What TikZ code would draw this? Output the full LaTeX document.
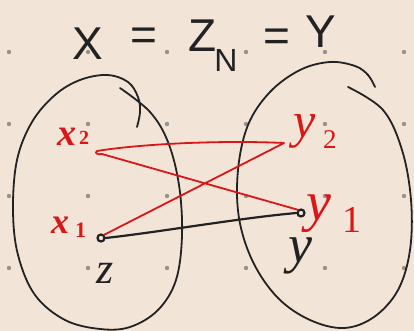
\documentclass[tikz,border=0pt]{standalone}
\usepackage{fontspec}
\newfontfamily\titlefont{Liberation Sans}
\newfontfamily\labelfont{Liberation Serif}
\definecolor{bg}{RGB}{243,228,216}
\definecolor{ink}{RGB}{34,34,34}
\definecolor{redink}{RGB}{218,22,22}
\definecolor{griddot}{RGB}{150,146,142}
\newcommand{\fsz}[1]{\fontsize{#1}{#1}\selectfont}
\begin{document}
\begin{tikzpicture}[x=1pt,y=-1pt,
  loop/.style={draw=ink,line width=1.8pt,line cap=round,line join=round},
  redline/.style={draw=redink,line width=1.8pt,line cap=round,line join=round},
  blackline/.style={draw=ink,line width=2.2pt,line cap=round},
  ptdot/.style={circle,draw=ink,line width=2.2pt,minimum size=7pt,inner sep=0pt},
  redlabel/.style={text=redink,inner sep=0pt,anchor=base west},
  blacklabel/.style={text=ink,inner sep=0pt,anchor=base west},
  titletext/.style={text=ink,inner sep=0pt,font=\titlefont\fsz{46}}]
\fill[bg] (0,0) rectangle (414,331);
\useasboundingbox (0,0) rectangle (414,331);
% grid dots
\foreach \gx in {9,88,167,246,325,404}{
  \foreach \gy in {52,124,196,268}{
    \fill[griddot] (\gx,\gy) circle (2.2pt);
  }
}
% title
\node[titletext] (tX) at (88,44) {X};
\node[titletext] (te1) at (144,39) {=};
\node[titletext] (tZ) at (203,36) {Z};
\node[titletext,font=\titlefont\fsz{32}] (tN) at (226,60) {N};
\node[titletext] (te2) at (277,40) {=};
\node[titletext] (tY) at (321,32) {Y};
% left loop
\draw[loop] plot[smooth,tension=0.6] coordinates {
 (120,88) (150,112) (168,142) (179,185) (182,235) (176,280) (158,310) (130,327) (100,329)
 (65,320) (35,295) (18,255) (13,210) (17,160) (32,122) (55,95) (80,80) (107,75)
 (128,82) (138,97) (140,112) (137,127)};
% right loop
\draw[loop] plot[smooth,tension=0.6] coordinates {
 (348,87) (383,110) (402,150) (411,200) (410,250) (398,290) (374,317) (344,328)
 (310,320) (278,298) (253,262) (239,218) (238,170) (248,125) (270,92) (300,70) (330,62)
 (355,66) (368,75) (375,87)};
% points
\node[ptdot] (x1) at (101,238) {};
\node[ptdot] (yp) at (301,213) {};
\coordinate (y2tip) at (284,143);
\coordinate (x2tip) at (97,151);
% red zigzag
\draw[redline] (x1.north east) -- (y2tip) .. controls (220,140) and (140,144) .. (x2tip)
  .. controls (94,153) and (98,155) .. (102,154) -- (yp.north west);
% black connector
\draw[blackline] (x1.east) .. controls (160,232) and (240,218) .. (yp.west);
% labels
\node[redlabel,font=\labelfont\bfseries\itshape\fsz{38}] (lx2) at (57,146) {x};
\node[redlabel,font=\labelfont\bfseries\fsz{20}] (lx2s) at (79,145) {2};
\node[redlabel,font=\labelfont\bfseries\itshape\fsz{36}] (lx1) at (51,233) {x};
\node[redlabel,font=\labelfont\bfseries\fsz{22}] (lx1s) at (75,237) {1};
\node[redlabel,font=\labelfont\itshape\fsz{50}] (ly2) at (293,138) {y};
\node[redlabel,font=\labelfont\fsz{27}] (ly2s) at (323,148) {2};
\node[redlabel,font=\labelfont\itshape\fsz{56}] (ly1) at (306,220) {y};
\node[redlabel,font=\labelfont\fsz{38}] (ly1s) at (342,232) {1};
\node[blacklabel,font=\labelfont\itshape\fsz{44}] (lz) at (96,283) {z};
\node[blacklabel,font=\labelfont\itshape\fsz{54}] (ly) at (288,262) {y};
\end{tikzpicture}
\end{document}
